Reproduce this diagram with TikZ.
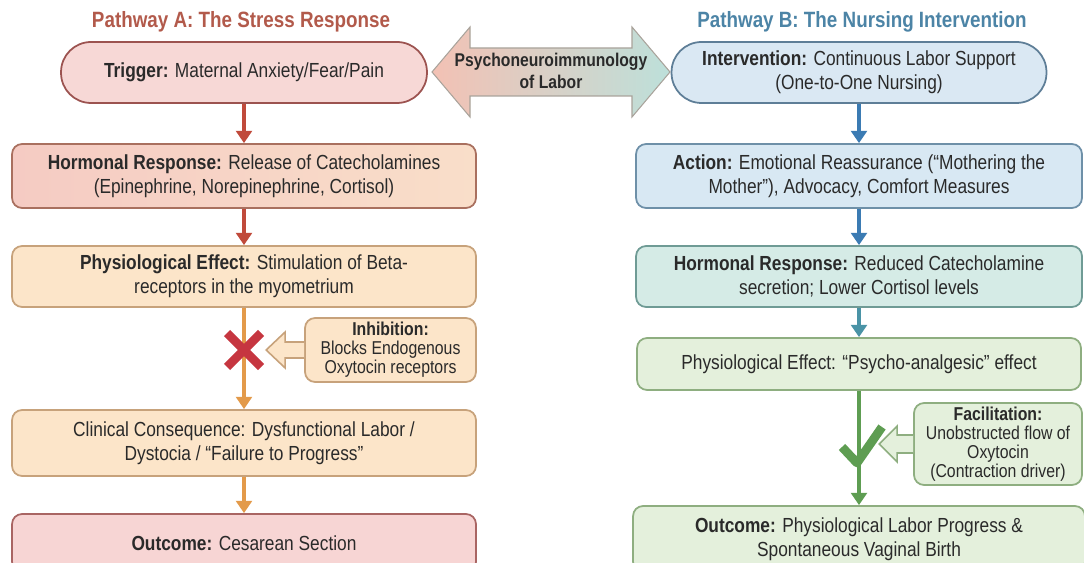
\documentclass[tikz,border=0pt]{standalone}
\usepackage{fontspec}
\setmainfont{Liberation Sans}[FakeStretch=0.85]
\usepackage{xcolor}
\usepackage{tikz}
\usetikzlibrary{positioning}
\usetikzlibrary{arrows.meta}
\pgfdeclarelayer{nodelayer}
\pgfdeclarelayer{edgelayer}
\pgfsetlayers{nodelayer,edgelayer,main}

\definecolor{titleA}{HTML}{B25A4B}
\definecolor{titleB}{HTML}{4C84A6}
\definecolor{txt}{HTML}{2A2A2A}
\definecolor{trigfill}{HTML}{F7D8D6}
\definecolor{trigline}{HTML}{9C5350}
\definecolor{hormAl}{HTML}{F5CBC3}
\definecolor{hormAr}{HTML}{F9DEC9}
\definecolor{hormAline}{HTML}{A9705F}
\definecolor{peach}{HTML}{FCE5C9}
\definecolor{peachline}{HTML}{C7A27B}
\definecolor{outAfill}{HTML}{F7D5D4}
\definecolor{outAline}{HTML}{A96563}
\definecolor{intfill}{HTML}{DAE8F3}
\definecolor{intline}{HTML}{5E7E97}
\definecolor{actfill}{HTML}{D8E8F3}
\definecolor{actline}{HTML}{6E90A8}
\definecolor{hormBfill}{HTML}{D5EBE6}
\definecolor{hormBline}{HTML}{6F9B95}
\definecolor{greenfill}{HTML}{E4F0DC}
\definecolor{greenline}{HTML}{8EAE80}
\definecolor{redA}{HTML}{C04A3B}
\definecolor{orangeA}{HTML}{E39A4A}
\definecolor{xred}{HTML}{C63640}
\definecolor{blueB}{HTML}{3B7BB3}
\definecolor{tealB}{HTML}{4A93A6}
\definecolor{greenB}{HTML}{5E9D52}
\definecolor{pniL}{HTML}{F3C1B4}
\definecolor{pniR}{HTML}{BDE0DA}
\definecolor{pniline}{HTML}{A9A39B}

\tikzset{
  box/.style={draw, rounded corners=0.2cm, line width=1pt, inner sep=0pt, align=center, text=txt, font=\fontsize{11.6}{13.8}\selectfont},
  pill/.style={box, rounded corners=0.6cm},
  note/.style={box, font=\fontsize{10.6}{10.8}\selectfont},
  title/.style={font=\fontsize{12.6}{14}\selectfont\bfseries},
  flow/.style={line width=1.8pt, -{Triangle[width=9pt,length=7pt]}},
  hollow/.style={line width=0.9pt},
  xmark/.style={line width=5pt, xred},
  tick/.style={line width=5pt, greenB, line join=round},
}

\begin{document}
\begin{tikzpicture}[x=0.02cm, y=-0.02cm]
  \useasboundingbox (0, 0) rectangle (1084, 563);
  \begin{pgfonlayer}{nodelayer}
    \node [title, text=titleA] (0) at (241, 22) {Pathway A: The Stress Response};
    \node [title, text=titleB] (1) at (862, 22) {Pathway B: The Nursing Intervention};
    \node [pill, fill=trigfill, draw=trigline, minimum width=7.32cm, minimum height=1.22cm] (2) at (244, 72.5) {\textbf{Trigger:} Maternal Anxiety/Fear/Pain};
    \node [box, left color=hormAl, right color=hormAr, draw=hormAline, minimum width=9.28cm, minimum height=1.28cm] (3) at (244, 176) {\textbf{Hormonal Response:} Release of Catecholamines\\(Epinephrine, Norepinephrine, Cortisol)};
    \node [box, fill=peach, draw=peachline, minimum width=9.28cm, minimum height=1.22cm] (4) at (244, 276.5) {\textbf{Physiological Effect:} Stimulation of Beta-\\receptors in the myometrium};
    \node [note, fill=peach, draw=peachline, minimum width=3.42cm, minimum height=1.28cm] (5) at (390.5, 350) {\textbf{Inhibition:}\\Blocks Endogenous\\Oxytocin receptors};
    \node [box, fill=peach, draw=peachline, minimum width=9.28cm, minimum height=1.32cm] (6) at (244, 443) {Clinical Consequence: Dysfunctional Labor /\\Dystocia / “Failure to Progress”};
    \node [box, fill=outAfill, draw=outAline, minimum width=9.28cm, minimum height=1.16cm] (7) at (244, 543) {\textbf{Outcome:} Cesarean Section};
    \node [inner sep=0pt] (8) at (244, 350) {};
    \node [pill, fill=intfill, draw=intline, minimum width=7.5cm, minimum height=1.22cm] (9) at (859, 72.5) {\textbf{Intervention:} Continuous Labor Support\\(One-to-One Nursing)};
    \node [box, fill=actfill, draw=actline, minimum width=8.92cm, minimum height=1.28cm] (10) at (859, 176) {\textbf{Action:} Emotional Reassurance (“Mothering the\\Mother”), Advocacy, Comfort Measures};
    \node [box, fill=hormBfill, draw=hormBline, minimum width=8.92cm, minimum height=1.22cm] (11) at (859, 276.5) {\textbf{Hormonal Response:} Reduced Catecholamine\\secretion; Lower Cortisol levels};
    \node [box, fill=greenfill, draw=greenline, minimum width=8.88cm, minimum height=1.04cm] (12) at (859, 364) {Physiological Effect: “Psycho-analgesic” effect};
    \node [note, fill=greenfill, draw=greenline, minimum width=3.36cm, minimum height=1.64cm] (13) at (998, 444) {\textbf{Facilitation:}\\Unobstructed flow of\\Oxytocin\\(Contraction driver)};
    \node [box, fill=greenfill, draw=greenline, minimum width=9.04cm, minimum height=1.32cm] (14) at (859, 539) {\textbf{Outcome:} Physiological Labor Progress \&\\Spontaneous Vaginal Birth};
    \node [inner sep=0pt] (15) at (859, 445) {};
  \end{pgfonlayer}
  \node [align=center, text=txt, font=\fontsize{10.5}{12.5}\selectfont\bfseries] (16) at (551, 71) {Psychoneuroimmunology\\of Labor};
  \begin{pgfonlayer}{edgelayer}
    \path [draw=pniline, line width=0.6pt, left color=pniL, right color=pniR] (16.center) ++(-119, 1) -- ++(38, -45) -- ++(0, 21) -- ++(162, 0) -- ++(0, -21) -- ++(38, 45) -- ++(-38, 45) -- ++(0, -21) -- ++(-162, 0) -- ++(0, 21) -- cycle;
    \draw [flow, redA] (2.south) to (3.north);
    \draw [flow, redA] (3.south) to (4.north);
    \draw [flow, orangeA] (4.south) to (6.north);
    \draw [flow, orangeA] (6.south) to (7.north);
    \draw [xmark] (8.center) ++(-17, -17) -- ++(34, 34) (8.center) ++(17, -17) -- ++(-34, 34);
    \draw [hollow, draw=peachline, fill=peach] (5.west) ++(0, -8) -- ++(-19, 0) -- ++(0, -10) -- ++(-19, 18) -- ++(19, 18) -- ++(0, -10) -- ++(19, 0);
    \draw [flow, blueB] (9.south) to (10.north);
    \draw [flow, blueB] (10.south) to (11.north);
    \draw [flow, tealB] (11.south) to (12.north);
    \draw [flow, greenB] (12.south) to (14.north);
    \draw [tick] (15.center) ++(-17, 2) -- ++(15, 16) -- ++(25, -36);
    \draw [hollow, draw=greenline, fill=greenfill] (13.west) ++(0, -9) -- ++(-16, 0) -- ++(0, -9) -- ++(-18, 18) -- ++(18, 18) -- ++(0, -9) -- ++(16, 0);
  \end{pgfonlayer}
\end{tikzpicture}
\end{document}
